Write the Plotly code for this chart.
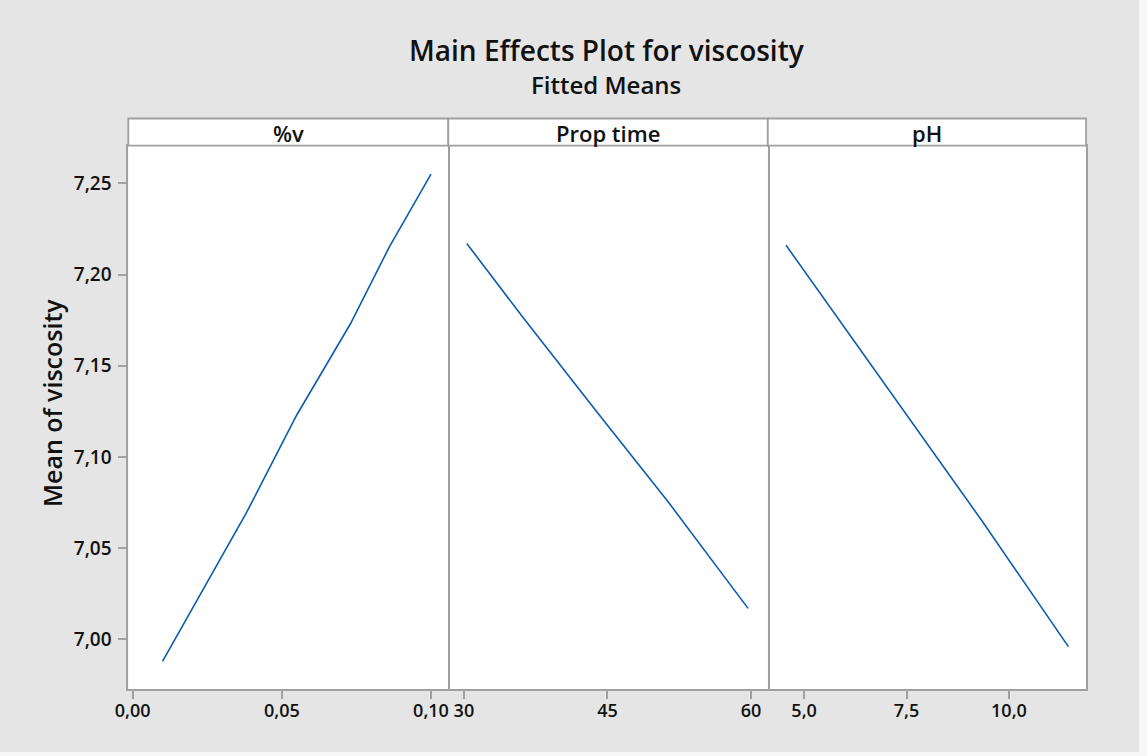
import plotly.graph_objects as go

W, H = 1147, 756

# ---- data ----
pct_v = [0.010, 0.038, 0.055, 0.073, 0.086, 0.100]
visc_pct_v = [6.988, 7.069, 7.123, 7.173, 7.215, 7.255]

prop_time = [30.3, 36.1, 43.7, 51.4, 59.7]
visc_prop_time = [7.217, 7.177, 7.126, 7.075, 7.017]

ph = [4.56, 5.92, 7.67, 9.34, 11.45]
visc_ph = [7.216, 7.173, 7.118, 7.065, 6.996]

panel_titles = ["%v", "Prop time", "pH"]
x_tickvals = [[0.0, 0.05, 0.10], [30, 45, 60], [5.0, 7.5, 10.0]]
x_ticktext = [["0,00", "0,05", "0,10"], ["30", "45", "60"], ["5,0", "7,5", "10,0"]]
y_tickvals = [7.00, 7.05, 7.10, 7.15, 7.20, 7.25]
y_ticktext = ["7,00", "7,05", "7,10", "7,15", "7,20", "7,25"]

title = "Main Effects Plot for viscosity"
subtitle = "Fitted Means"
y_title = "Mean of viscosity"

# ---- layout geometry (pixels) ----
def px(x):
    return x / W

def py(y):
    return 1 - y / H

panel_px = [(128.3, 448.3), (448.3, 767.8), (767.8, 1086.0)]
plot_top, plot_bot = 145.7, 689.0
head_top = 118.5
x_ranges = [[-0.00147, 0.1058], [28.37, 61.76], [4.114, 11.88]]
y_range = [6.9728, 7.2706]

FONT = "Open Sans"
GRAY = "#a0a0a0"
LINE = "#0b5cad"
TXT = "#111111"

fig = go.Figure()
series = [(pct_v, visc_pct_v), (prop_time, visc_prop_time), (ph, visc_ph)]
for i, (xs, ys) in enumerate(series):
    sfx = "" if i == 0 else str(i + 1)
    fig.add_trace(go.Scatter(x=xs, y=ys, mode="lines",
                             line=dict(color=LINE, width=1.6),
                             xaxis="x" + sfx, yaxis="y" + sfx,
                             showlegend=False, hoverinfo="skip"))

layout = dict(
    width=W, height=H,
    margin=dict(l=0, r=0, t=0, b=0, autoexpand=False),
    paper_bgcolor="#e5e5e5",
    plot_bgcolor="white",
    showlegend=False,
    font=dict(family=FONT, color=TXT),
)

for i in range(3):
    sfx = "" if i == 0 else str(i + 1)
    x0, x1 = panel_px[i]
    layout["xaxis" + sfx] = dict(
        domain=[px(x0), px(x1)], range=x_ranges[i], anchor="y" + sfx,
        tickmode="array", tickvals=x_tickvals[i], ticktext=x_ticktext[i],
        ticks="outside", ticklen=8, tickwidth=1.5, tickcolor=GRAY,
        showline=True, linecolor=GRAY, linewidth=1.8, mirror=True,
        showgrid=False, zeroline=False, ticklabelstandoff=-4, automargin=False,
        tickfont=dict(family=FONT, size=18, color=TXT, weight=600),
        fixedrange=True,
    )
    yax = dict(
        domain=[py(plot_bot), py(plot_top)], range=y_range, anchor="x" + sfx,
        showline=True, linecolor=GRAY, linewidth=1.8,
        showgrid=False, zeroline=False, fixedrange=True, automargin=False,
    )
    if i == 0:
        yax.update(mirror=True, tickmode="array", tickvals=y_tickvals,
                   ticktext=y_ticktext, ticks="outside", ticklen=8,
                   tickwidth=1.5, tickcolor=GRAY, ticklabelstandoff=3,
                   tickfont=dict(family=FONT, size=19, color=TXT, weight=600))
    else:
        # draw only the right-hand edge so dividers are single lines
        yax.update(matches="y", side="right", mirror=False,
                   showticklabels=False, ticks="")
    layout["yaxis" + sfx] = yax

shapes = [
    # light screenshot border on the right and bottom
    dict(type="rect", xref="paper", yref="paper", x0=px(1139), x1=1,
         y0=0, y1=1, fillcolor="#f6f6f6", line=dict(width=0), layer="below"),
    dict(type="rect", xref="paper", yref="paper", x0=0, x1=1,
         y0=0, y1=py(752), fillcolor="#f6f6f6", line=dict(width=0), layer="below"),
]
annotations = []
for i in range(3):
    x0, x1 = panel_px[i]
    shapes.append(dict(type="rect", xref="paper", yref="paper",
                       x0=px(x0), x1=px(x1), y0=py(plot_top), y1=py(head_top),
                       fillcolor="white", line=dict(color=GRAY, width=1.8),
                       layer="above"))
    annotations.append(dict(text=panel_titles[i], xref="paper", yref="paper",
                            x=px((x0 + x1) / 2), y=py((plot_top + head_top) / 2 + 1),
                            xanchor="center", yanchor="middle", showarrow=False,
                            font=dict(family=FONT, size=22, color=TXT, weight=600)))

annotations += [
    dict(text=title, xref="paper", yref="paper", x=px(606), y=py(50),
         xanchor="center", yanchor="middle", showarrow=False,
         font=dict(family=FONT, size=28, color=TXT, weight=600)),
    dict(text=subtitle, xref="paper", yref="paper", x=px(606), y=py(84),
         xanchor="center", yanchor="middle", showarrow=False,
         font=dict(family=FONT, size=24, color=TXT, weight=600)),
    dict(text=y_title, xref="paper", yref="paper", x=px(52), y=py(403),
         xanchor="center", yanchor="middle", showarrow=False, textangle=-90,
         font=dict(family=FONT, size=25, color=TXT, weight=600)),
]
layout["shapes"] = shapes
layout["annotations"] = annotations

fig.update_layout(**layout)
fig.write_html("out.html")
